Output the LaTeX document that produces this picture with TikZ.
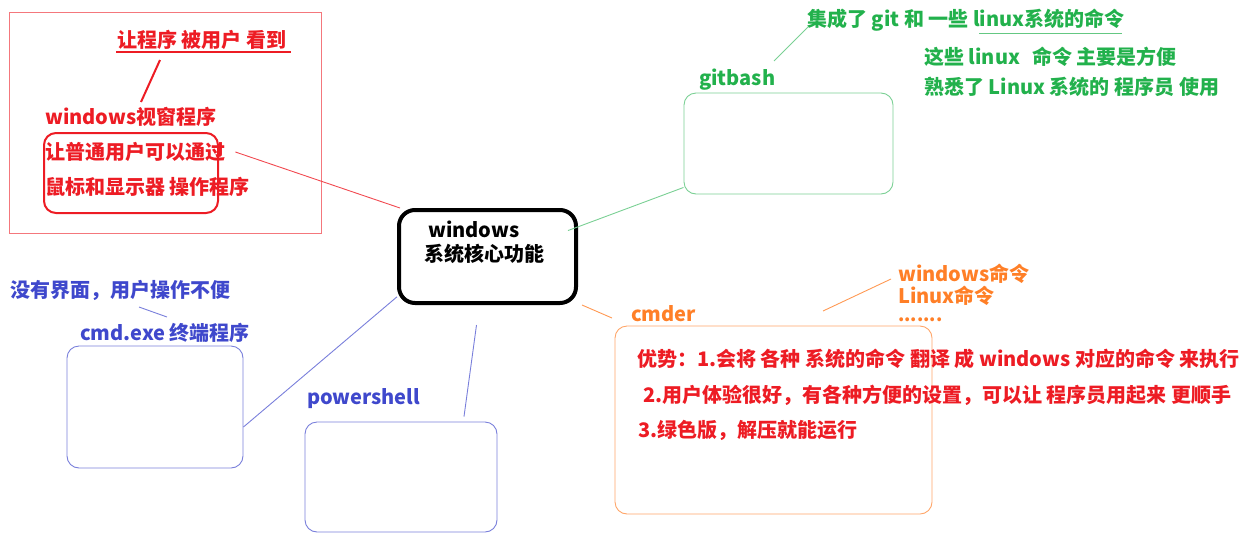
\documentclass[tikz,border=0pt]{standalone}
\usepackage{fontspec}
\setmainfont{Noto Sans CJK SC}
\definecolor{pred}{RGB}{237,28,36}
\definecolor{pgreen}{RGB}{34,177,76}
\definecolor{pblue}{RGB}{63,72,204}
\definecolor{porange}{RGB}{255,127,39}

\begin{document}
\begin{tikzpicture}[x=1pt,y=-1pt,
        txt/.style={anchor=west, inner sep=0pt, font=\fontsize{20}{22}\selectfont\bfseries},
        frame/.style={draw, rounded corners=12pt, inner sep=0pt, line width=0.9pt},
        link/.style={line width=0.9pt}]
        \useasboundingbox (0,0) rectangle (1252,544);

        % centre
        \node[frame, line width=4pt, rounded corners=16pt, minimum width=177, minimum height=93] (core) at (487.5,256.5) {};
        \node[txt] (corea) at (428,229) {windows};
        \node[txt] (coreb) at (424,254) {系统核心功能};

        % windows gui programs
        \draw[pred!60, line width=0.9pt] (9,12) rectangle (321,233);
        \node[txt, pred] (seen) at (117,40) {让程序 被用户 看到};
        \draw[pred, line width=2pt] (116,52) -- (291,52);
        \coordinate (seenfoot) at (160,60);
        \coordinate (winhead) at (141,102);
        \draw[pred, line width=2pt] (seenfoot) -- (winhead);
        \node[txt, pred] (winapp) at (45,117) {windows视窗程序};
        \node[txt, pred] (winuse) at (45,152) {让普通用户可以通过};
        \node[txt, pred] (winop) at (45,187) {鼠标和显示器 操作程序};
        \node[frame, pred, line width=2pt, minimum width=174, minimum height=80] (winbox) at (131,173) {};
        \draw[link, pred!80] ([xshift=10pt]winuse.east) -- (core.151);

        % gitbash
        \node[txt, pgreen] (gitnote) at (807,20) {集成了 git 和 一些 linux系统的命令};
        \draw[pgreen!70, line width=1pt] (979,33) -- (1122,33);
        \node[txt, pgreen] (gituse) at (924,57) {这些 linux\hspace{0.6em}命令 主要是方便};
        \node[txt, pgreen] (gitwho) at (924,87) {熟悉了 Linux 系统的 程序员 使用};
        \node[txt, pgreen] (gitlabel) at (699,80) {gitbash};
        \coordinate (gitnotefoot) at (808,27);
        \coordinate (gittop) at (774,61);
        \draw[link, pgreen!60] (gitnotefoot) -- (gittop);
        \node[frame, pgreen!60, minimum width=209, minimum height=101] (gitbox) at (788.5,143.5) {};
        \draw[link, pgreen!60] ([yshift=7pt]gitbox.south west) -- ([xshift=-10pt]core.16);

        % cmd.exe
        \node[txt, pblue] (cmdnote) at (10,290) {没有界面，用户操作不便};
        \node[txt, pblue] (cmdlabel) at (80,333) {cmd.exe 终端程序};
        \coordinate (cmdnotefoot) at (139,307);
        \coordinate (cmdtop) at (167,317);
        \draw[link, pblue!70] (cmdnotefoot) -- (cmdtop);
        \node[frame, pblue!70, minimum width=176, minimum height=122] (cmdbox) at (155,407) {};
        \draw[link, pblue!70] ([yshift=-20pt]cmdbox.east) -- (core.204);

        % powershell
        \node[txt, pblue] (pslabel) at (307,399) {powershell};
        \node[frame, pblue!70, minimum width=192, minimum height=110] (psbox) at (401,477) {};
        \draw[link, pblue!70] ([xshift=-11pt,yshift=-20pt]core.south) -- ([xshift=63pt,yshift=5pt]psbox.north);

        % cmder
        \node[txt, porange] (cmdwin) at (898,274) {windows命令};
        \node[txt, porange] (cmdlinux) at (898,296) {Linux命令};
        \node[txt, porange, font=\fontsize{18}{20}\selectfont\bfseries] (cmddots) at (898,320) {.......};
        \coordinate (cmdwinfoot) at (891,279);
        \coordinate (cmdertop) at (823,311);
        \draw[link, porange!80] (cmdwinfoot) -- (cmdertop);
        \node[txt, porange] (cmderlabel) at (631,314) {cmder};
        \coordinate (cmderleft) at (612,318);
        \draw[link, porange!80] ([xshift=4pt]core.south east) -- (cmderleft);
        \node[frame, porange!70, minimum width=317, minimum height=188] (cmderbox) at (773.5,420) {};
        \node[txt, pred] (prosa) at (637,359) {优势：1.会将 各种 系统的命令 翻译 成 windows 对应的命令 来执行};
        \node[txt, pred] (prosb) at (643,395) {2.用户体验很好，有各种方便的设置，可以让 程序员用起来 更顺手};
        \node[txt, pred] (prosc) at (638,430) {3.绿色版，解压就能运行};
    \end{tikzpicture}
\end{document}
